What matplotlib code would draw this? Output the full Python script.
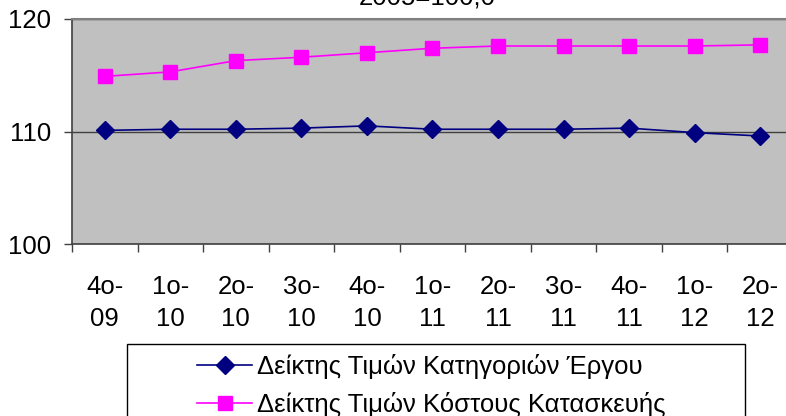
import matplotlib
matplotlib.use("Agg")
import matplotlib.pyplot as plt
from matplotlib.patches import Rectangle

quarters = ["4o-\n09", "1o-\n10", "2o-\n10", "3o-\n10", "4o-\n10", "1o-\n11",
            "2o-\n11", "3o-\n11", "4o-\n11", "1o-\n12", "2o-\n12"]
work_idx = [110.1, 110.2, 110.2, 110.3, 110.5, 110.2, 110.2, 110.2, 110.3, 109.9, 109.6]
cost_idx = [114.9, 115.3, 116.3, 116.6, 117.0, 117.4, 117.6, 117.6, 117.6, 117.6, 117.7]
title = "2005=100,0"
labels = ["Δείκτης Τιμών Κατηγοριών Έργου", "Δείκτης Τιμών Κόστους Κατασκευής"]

plt.rcParams['font.family'] = ['Liberation Sans', 'DejaVu Sans']

W, H = 786, 416
fig = plt.figure(figsize=(W / 100, H / 100), dpi=100)
ax = fig.add_axes([72 / W, 1 - 244 / H, (793 - 72) / W, (244 - 19) / H])
ax.set_facecolor("#C0C0C0")

x = list(range(len(quarters)))
l1, = ax.plot(x, work_idx, color="#000080", lw=1.2, marker="D", ms=9,
              markeredgecolor="#000080", markerfacecolor="#000080")
l2, = ax.plot(x, cost_idx, color="#FF00FF", lw=1.2, marker="s", ms=10,
              markeredgecolor="#FF00FF", markerfacecolor="#FF00FF")

ax.set_ylim(100, 120)
ax.set_xlim(-0.5, len(quarters) - 0.5)
ax.set_yticks([100, 110, 120])
ax.tick_params(axis="y", labelsize=18.5, length=6, width=1, color="#404040", pad=9)
ax.yaxis.grid(True, color="#404040", lw=1)
ax.set_axisbelow(True)

ax.set_xticks([i - 0.5 for i in range(len(quarters) + 1)])
ax.set_xticklabels([])
ax.set_xticks(x, minor=True)
ax.set_xticklabels(quarters, minor=True, fontsize=18.5, linespacing=1.45)
ax.tick_params(axis="x", which="major", length=6, width=1, color="#404040")
ax.tick_params(axis="x", which="minor", length=0, pad=22)

for s in ["left", "bottom"]:
    ax.spines[s].set_color("#404040")
    ax.spines[s].set_linewidth(1.2)
ax.spines["top"].set_color("#808080")
ax.spines["top"].set_linewidth(1.5)
ax.spines["right"].set_visible(False)

fig.text(427 / W, 1 - 5 / H, title, ha="center", va="baseline", fontsize=18.5)

# legend box, cut by the bottom edge of the picture
fig.patches.append(Rectangle((127 / W, -0.05), (745 - 127) / W, (1 - 344 / H) + 0.05,
                             transform=fig.transFigure, facecolor="white",
                             edgecolor="black", lw=1))
fig.legend([l1, l2], labels, loc="upper left", bbox_to_anchor=(197 / W, 1 - 354 / H),
           frameon=False, fontsize=18.5, handlelength=2.15, handletextpad=0.2,
           labelspacing=0.52, borderpad=0, borderaxespad=0)

fig.savefig("out.png", dpi=100)
